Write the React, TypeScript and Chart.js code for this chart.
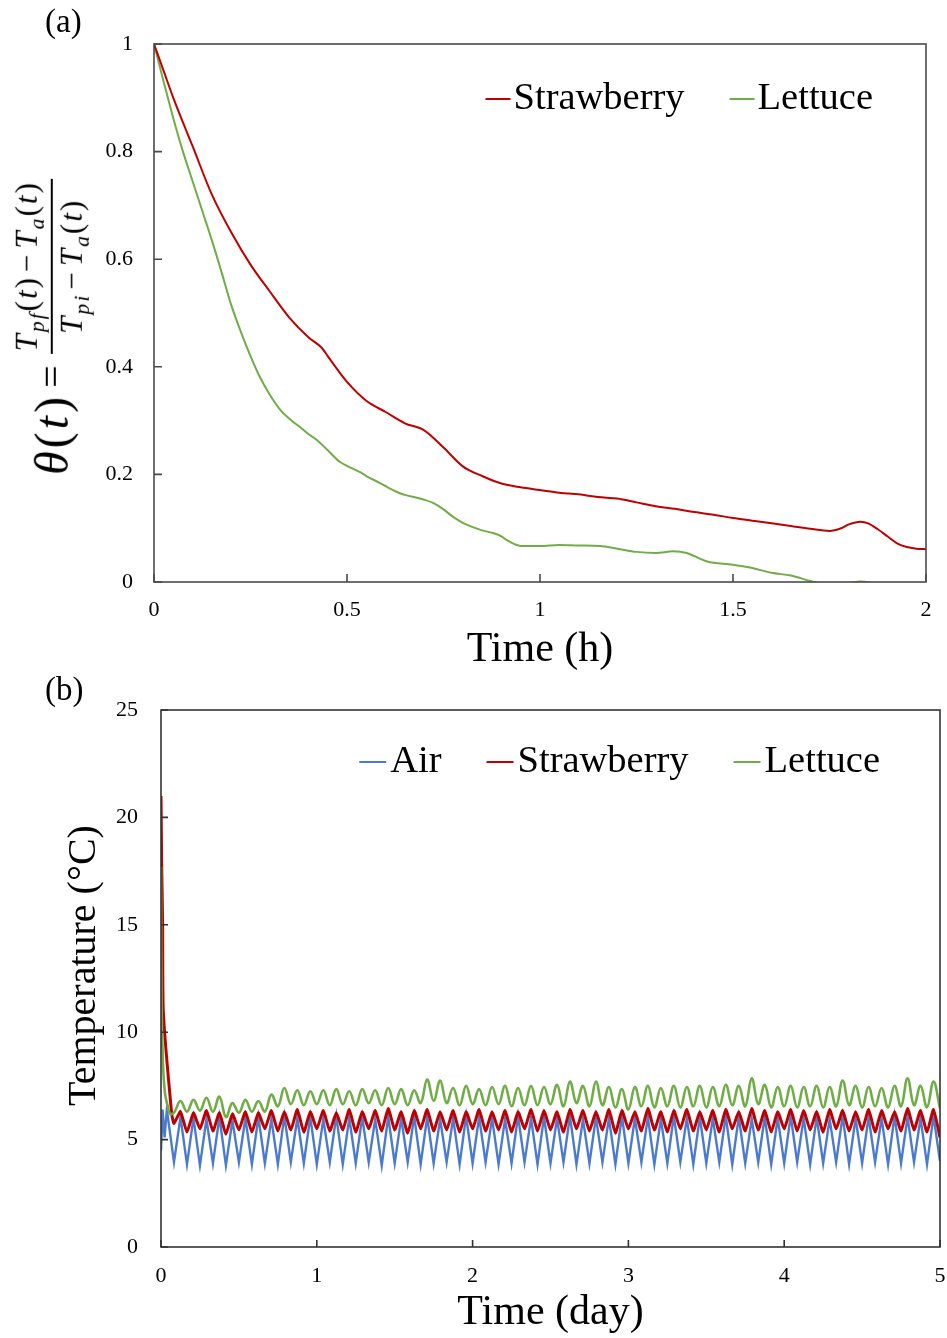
import React, { useEffect, useRef } from 'react';
import { Chart, registerables } from 'chart.js';

Chart.register(...registerables);

const FONT = "'Liberation Serif', 'Times New Roman', Times, serif";

// ---------- Panel (a): dimensionless temperature vs time (h) ----------
const strawberryHours = [0, 0.025, 0.05, 0.1, 0.15, 0.2, 0.25, 0.3, 0.35, 0.4, 0.435, 0.45, 0.5, 0.55, 0.6, 0.65, 0.7, 0.75, 0.8, 0.85, 0.9, 0.95, 1.0, 1.05, 1.1, 1.15, 1.2, 1.25, 1.3, 1.35, 1.4, 1.45, 1.5, 1.55, 1.6, 1.65, 1.7, 1.75, 1.78, 1.8, 1.83, 1.85, 1.875, 1.9, 1.925, 1.95, 1.975, 2.0];
const strawberryTheta = [1.0, 0.95, 0.9, 0.81, 0.72, 0.65, 0.59, 0.54, 0.492, 0.455, 0.435, 0.42, 0.372, 0.337, 0.316, 0.295, 0.282, 0.25, 0.215, 0.197, 0.183, 0.176, 0.171, 0.166, 0.163, 0.158, 0.155, 0.148, 0.141, 0.136, 0.13, 0.125, 0.119, 0.114, 0.109, 0.104, 0.099, 0.095, 0.1, 0.107, 0.112, 0.109, 0.098, 0.085, 0.072, 0.065, 0.062, 0.061];

const lettuceHours = [0, 0.025, 0.05, 0.075, 0.1, 0.125, 0.15, 0.175, 0.2, 0.225, 0.25, 0.275, 0.3, 0.325, 0.35, 0.378, 0.4, 0.422, 0.45, 0.482, 0.5, 0.534, 0.55, 0.585, 0.6, 0.637, 0.65, 0.7, 0.723, 0.75, 0.775, 0.8, 0.826, 0.85, 0.878, 0.9, 0.914, 0.95, 1.0, 1.05, 1.1, 1.155, 1.2, 1.25, 1.3, 1.345, 1.38, 1.4, 1.433, 1.5, 1.55, 1.6, 1.65, 1.7, 1.73, 1.76, 1.8, 1.83, 1.86, 1.9, 2.0];
const lettuceTheta = [1.0, 0.93, 0.862, 0.8, 0.745, 0.69, 0.635, 0.576, 0.515, 0.465, 0.42, 0.38, 0.348, 0.322, 0.304, 0.288, 0.275, 0.264, 0.245, 0.223, 0.216, 0.204, 0.197, 0.184, 0.178, 0.165, 0.162, 0.153, 0.147, 0.135, 0.121, 0.11, 0.102, 0.096, 0.091, 0.085, 0.078, 0.067, 0.067, 0.069, 0.068, 0.067, 0.062, 0.056, 0.054, 0.057, 0.054, 0.048, 0.038, 0.032, 0.026, 0.017, 0.012, 0.002, -0.003, -0.006, -0.002, 0.001, -0.002, -0.008, -0.012];

// ---------- Panel (b): temperature (°C) vs time, sampled in hours ----------
const airStartHours = [0, 0.25, 0.55, 0.9];
const airStartTemp = [4.5, 6.4, 5.1, 6.4];
const strawberryStartHours = [0, 0.1, 0.25, 0.35, 1.65];
const strawberryStartTemp = [21.0, 17.9, 15.1, 11.0, 6.2];
const lettuceStartHours = [0, 0.1, 0.3, 0.6, 1.0, 1.4];
const lettuceStartTemp = [17.7, 11.0, 8.6, 7.2, 6.6, 6.2];

const cycleHours = [
  2, 3, 4, 5, 6, 7, 8, 9, 10, 11, 12, 13,
  14, 15, 16, 17, 18, 19, 20, 21, 22, 23, 24, 25,
  26, 27, 28, 29, 30, 31, 32, 33, 34, 35, 36, 37,
  38, 39, 40, 41, 42, 43, 44, 45, 46, 47, 48, 49,
  50, 51, 52, 53, 54, 55, 56, 57, 58, 59, 60, 61,
  62, 63, 64, 65, 66, 67, 68, 69, 70, 71, 72, 73,
  74, 75, 76, 77, 78, 79, 80, 81, 82, 83, 84, 85,
  86, 87, 88, 89, 90, 91, 92, 93, 94, 95, 96, 97,
  98, 99, 100, 101, 102, 103, 104, 105, 106, 107, 108, 109,
  110, 111, 112, 113, 114, 115, 116, 117, 118, 119, 120,
];
const airTemp = [
  3.95, 6.05, 3.85, 6.0, 3.8, 5.95, 3.9, 6.05, 3.8, 5.9, 3.95, 6.0,
  3.85, 6.05, 3.9, 5.95, 3.85, 6.1, 3.95, 6.0, 3.9, 6.05, 3.85, 5.95,
  3.95, 6.1, 3.85, 6.0, 3.9, 6.05, 3.95, 5.95, 3.8, 6.05, 3.9, 6.0,
  3.95, 6.1, 3.85, 6.05, 3.9, 5.95, 3.95, 6.0, 3.85, 6.1, 3.9, 6.05,
  3.95, 6.0, 3.85, 5.95, 3.9, 6.1, 3.95, 6.0, 3.85, 6.05, 3.9, 6.0,
  3.95, 6.1, 3.85, 5.95, 3.9, 6.05, 3.95, 6.0, 3.85, 6.1, 3.9, 6.0,
  3.95, 6.05, 3.85, 5.95, 3.9, 6.1, 3.95, 6.0, 3.85, 6.05, 3.9, 6.0,
  3.95, 6.1, 3.85, 6.05, 3.9, 5.95, 3.95, 6.05, 3.85, 6.0, 3.9, 6.1,
  3.95, 6.0, 3.85, 6.05, 3.9, 5.95, 3.95, 6.1, 3.85, 6.0, 3.9, 6.05,
  3.95, 6.0, 3.85, 6.1, 3.9, 6.05, 3.95, 6.0, 3.85, 6.1, 4.0,
];
const strawberryTemp = [
  5.75, 6.3, 5.35, 6.25, 5.5, 6.35, 5.4, 6.25, 5.25, 6.2, 5.45, 6.3,
  5.35, 6.25, 5.5, 6.35, 5.4, 6.3, 5.45, 6.4, 5.35, 6.3, 5.5, 6.35,
  5.4, 6.25, 5.45, 6.4, 5.35, 6.3, 5.5, 6.35, 5.4, 6.45, 5.45, 6.3,
  5.3, 6.35, 5.5, 6.4, 5.4, 6.3, 5.45, 6.35, 5.35, 6.3, 5.5, 6.4,
  5.4, 6.3, 5.45, 6.35, 5.35, 6.3, 5.5, 6.4, 5.4, 6.35, 5.45, 6.3,
  5.35, 6.4, 5.5, 6.35, 5.4, 6.3, 5.45, 6.4, 5.3, 6.35, 5.5, 6.3,
  5.4, 6.45, 5.45, 6.3, 5.35, 6.35, 5.5, 6.4, 5.4, 6.3, 5.45, 6.35,
  5.35, 6.4, 5.5, 6.3, 5.4, 6.45, 5.45, 6.35, 5.35, 6.3, 5.5, 6.4,
  5.4, 6.35, 5.45, 6.3, 5.35, 6.4, 5.5, 6.35, 5.4, 6.3, 5.45, 6.4,
  5.35, 6.35, 5.5, 6.3, 5.4, 6.45, 5.45, 6.35, 5.35, 6.4, 5.1,
];
const lettuceTemp = [
  6.25, 6.8, 6.3, 6.85, 6.35, 6.95, 6.3, 7.0, 6.05, 6.7, 6.25, 6.85,
  6.3, 6.8, 6.3, 7.1, 6.55, 7.4, 6.65, 7.3, 6.6, 7.25, 6.65, 7.3,
  6.6, 7.35, 6.65, 7.25, 6.6, 7.35, 6.7, 7.3, 6.6, 7.4, 6.65, 7.35,
  6.6, 7.3, 6.7, 7.8, 6.8, 7.75, 6.7, 7.4, 6.6, 7.5, 6.65, 7.35,
  6.6, 7.45, 6.65, 7.5, 6.55, 7.4, 6.6, 7.5, 6.6, 7.45, 6.65, 7.55,
  6.55, 7.7, 6.7, 7.5, 6.55, 7.7, 6.6, 7.45, 6.5, 7.35, 6.4, 7.45,
  6.55, 7.5, 6.5, 7.4, 6.55, 7.5, 6.5, 7.45, 6.55, 7.5, 6.5, 7.45,
  6.55, 7.55, 6.6, 7.5, 6.55, 7.85, 6.65, 7.55, 6.5, 7.45, 6.55, 7.5,
  6.5, 7.45, 6.55, 7.5, 6.5, 7.45, 6.55, 7.75, 6.6, 7.5, 6.5, 7.45,
  6.55, 7.4, 6.5, 7.5, 6.55, 7.85, 6.6, 7.5, 6.5, 7.7, 6.45,
];
const hoursPerDay = 24;
const dayTickLabels = ['0', '1', '2', '3', '4', '5'];

const RED = '#C00000';
const GREEN = '#70AD47';
const BLUE = '#4A7BD0';

const toPoints = (xs: number[], ys: number[]) => xs.map((x, i) => ({ x, y: ys[i] }));
const plainNumber = (v: any) => String(+Number(v).toFixed(3));

// frame + inward tick marks
const frameTicks = {
  id: 'frameTicks',
  afterDatasetsDraw(chart: any, _args: any, opts: any) {
    const { ctx, chartArea: a, scales } = chart;
    ctx.save();
    ctx.strokeStyle = opts.color;
    ctx.lineWidth = opts.width;
    ctx.strokeRect(a.left, a.top, a.right - a.left, a.bottom - a.top);
    ctx.beginPath();
    scales.x.ticks.forEach((t: any) => {
      const p = scales.x.getPixelForValue(t.value);
      ctx.moveTo(p, a.bottom);
      ctx.lineTo(p, a.bottom - opts.len);
    });
    scales.y.ticks.forEach((t: any) => {
      const p = scales.y.getPixelForValue(t.value);
      ctx.moveTo(a.left, p);
      ctx.lineTo(a.left + opts.len, p);
    });
    ctx.stroke();
    ctx.restore();
  },
};

// legend drawn inside the plot area, right-aligned
const innerLegend = {
  id: 'innerLegend',
  afterDraw(chart: any, _args: any, opts: any) {
    const { ctx, chartArea: a } = chart;
    ctx.save();
    ctx.font = `${opts.size}px ${FONT}`;
    ctx.textBaseline = 'middle';
    const items = chart.data.datasets.map((d: any) => ({ label: d.label, color: d.borderColor }));
    const widths = items.map((it: any) => opts.lineLen + opts.lineGap + ctx.measureText(it.label).width);
    const total = widths.reduce((s: number, w: number) => s + w, 0) + opts.itemGap * (items.length - 1);
    let x = a.right - opts.right - total;
    const y = a.top + opts.top;
    items.forEach((it: any, i: number) => {
      ctx.strokeStyle = it.color;
      ctx.lineWidth = opts.lineWidth;
      ctx.beginPath();
      ctx.moveTo(x, y);
      ctx.lineTo(x + opts.lineLen, y);
      ctx.stroke();
      ctx.fillStyle = '#000';
      ctx.fillText(it.label, x + opts.lineLen + opts.lineGap, y);
      x += widths[i] + opts.itemGap;
    });
    ctx.restore();
  },
};

// rotated y-axis title placed relative to the plot area
const sideTitle = {
  id: 'sideTitle',
  afterDraw(chart: any, _args: any, opts: any) {
    if (!opts || !opts.text) return;
    const { ctx, chartArea: a } = chart;
    ctx.save();
    ctx.font = `${opts.size}px ${FONT}`;
    ctx.fillStyle = '#000';
    ctx.textAlign = 'center';
    ctx.textBaseline = 'middle';
    ctx.translate(opts.x, (a.top + a.bottom) / 2 + opts.dy);
    ctx.rotate(-Math.PI / 2);
    ctx.fillText(opts.text, 0, 0);
    ctx.restore();
  },
};

const noEdgePadding = (s: any) => {
  s.paddingLeft = 0;
  s.paddingRight = 0;
  s.paddingTop = 0;
  s.paddingBottom = 0;
};

function ChartA() {
  const ref = useRef<HTMLCanvasElement>(null);
  useEffect(() => {
    const chart = new Chart(ref.current as HTMLCanvasElement, {
      type: 'line',
      data: {
        datasets: [
          { label: 'Strawberry', data: toPoints(strawberryHours, strawberryTheta), borderColor: RED, backgroundColor: RED, borderWidth: 2, pointRadius: 0, cubicInterpolationMode: 'monotone' },
          { label: 'Lettuce', data: toPoints(lettuceHours, lettuceTheta), borderColor: GREEN, backgroundColor: GREEN, borderWidth: 2, pointRadius: 0, cubicInterpolationMode: 'monotone' },
        ],
      },
      options: {
        responsive: false,
        animation: false,
        devicePixelRatio: 1,
        layout: { padding: { left: 0, top: 44, right: 21, bottom: 0 } },
        plugins: {
          legend: { display: false },
          tooltip: { enabled: false },
          frameTicks: { color: '#4a4a4a', width: 1.6, len: 8 },
          innerLegend: { size: 38.5, lineLen: 25, lineGap: 3, itemGap: 45, right: 53, top: 55, lineWidth: 2 },
        } as any,
        scales: {
          x: {
            type: 'linear', min: 0, max: 2,
            ticks: { stepSize: 0.5, color: '#000', font: { family: FONT, size: 22 }, padding: 15, maxRotation: 0, autoSkip: false, callback: plainNumber },
            grid: { display: false, drawTicks: false },
            border: { display: false },
            title: { display: true, text: 'Time (h)', color: '#000', font: { family: FONT, size: 42 }, padding: { top: 0, bottom: 15 } },
            afterFit: (s: any) => { s.height = 108; noEdgePadding(s); },
          },
          y: {
            type: 'linear', min: 0, max: 1,
            ticks: { stepSize: 0.2, color: '#000', font: { family: FONT, size: 22 }, padding: 21, callback: plainNumber },
            grid: { display: false, drawTicks: false },
            border: { display: false },
            afterFit: (s: any) => { s.width = 154; noEdgePadding(s); },
          },
        },
      },
      plugins: [frameTicks, innerLegend],
    } as any);
    return () => chart.destroy();
  }, []);
  return <canvas ref={ref} width={947} height={690} style={{ position: 'absolute', left: 0, top: 0, width: 947, height: 690, display: 'block' }} />;
}

function ChartB() {
  const ref = useRef<HTMLCanvasElement>(null);
  useEffect(() => {
    const chart = new Chart(ref.current as HTMLCanvasElement, {
      type: 'line',
      data: {
        datasets: [
          { label: 'Air', data: toPoints(airStartHours.concat(cycleHours), airStartTemp.concat(airTemp)), borderColor: BLUE, backgroundColor: BLUE, borderWidth: 2.4, pointRadius: 0, tension: 0, order: 3 },
          { label: 'Strawberry', data: toPoints(strawberryStartHours.concat(cycleHours), strawberryStartTemp.concat(strawberryTemp)), borderColor: RED, backgroundColor: RED, borderWidth: 3, pointRadius: 0, tension: 0.15, order: 2 },
          { label: 'Lettuce', data: toPoints(lettuceStartHours.concat(cycleHours), lettuceStartTemp.concat(lettuceTemp)), borderColor: GREEN, backgroundColor: GREEN, borderWidth: 2.6, pointRadius: 0, tension: 0.4, order: 1 },
        ],
      },
      options: {
        responsive: false,
        animation: false,
        devicePixelRatio: 1,
        layout: { padding: { left: 0, top: 40, right: 7, bottom: 0 } },
        plugins: {
          legend: { display: false },
          tooltip: { enabled: false },
          frameTicks: { color: '#333', width: 1.6, len: 7 },
          innerLegend: { size: 38.5, lineLen: 27, lineGap: 4, itemGap: 45, right: 60, top: 52, lineWidth: 2 },
          sideTitle: { text: 'Temperature (°C)', size: 40, x: 84, dy: -13 },
        } as any,
        scales: {
          x: {
            type: 'linear', min: 0, max: 120,
            ticks: {
              stepSize: hoursPerDay, color: '#000', font: { family: FONT, size: 22 }, padding: 16, maxRotation: 0, autoSkip: false,
              callback: (v: any) => dayTickLabels[Math.round(Number(v) / hoursPerDay)],
            },
            grid: { display: false, drawTicks: false },
            border: { display: false },
            title: { display: true, text: 'Time (day)', color: '#000', font: { family: FONT, size: 42 }, padding: { top: 0, bottom: 0 } },
            afterFit: (s: any) => { s.height = 91; noEdgePadding(s); },
          },
          y: {
            type: 'linear', min: 0, max: 25,
            ticks: { stepSize: 5, color: '#000', font: { family: FONT, size: 22 }, padding: 23 },
            grid: { display: false, drawTicks: false },
            border: { display: false },
            afterFit: (s: any) => { s.width = 161; noEdgePadding(s); },
          },
        },
      },
      plugins: [frameTicks, innerLegend, sideTitle],
    } as any);
    return () => chart.destroy();
  }, []);
  return <canvas ref={ref} width={947} height={668} style={{ position: 'absolute', left: 0, top: 670, width: 947, height: 668, display: 'block' }} />;
}

const sub = { fontSize: '0.7em', verticalAlign: '-0.3em', lineHeight: 1 } as React.CSSProperties;

function ThetaLabel() {
  return (
    <div
      style={{
        position: 'absolute', left: 52, top: 327, transform: 'translate(-50%, -50%) rotate(-90deg)',
        whiteSpace: 'nowrap', display: 'flex', alignItems: 'center', fontFamily: FONT, color: '#000', lineHeight: 1,
      }}
    >
      <span style={{ fontSize: 48, letterSpacing: 3 }}><i>θ</i>(<i>t</i>)</span>
      <span style={{ fontSize: 40, margin: '0 12px 0 6px' }}>=</span>
      <span style={{ display: 'inline-flex', flexDirection: 'column', alignItems: 'center', fontSize: 31, letterSpacing: 2 }}>
        <span style={{ padding: '0 2px 3px' }}>
          <i>T</i><span style={sub}><i>pf</i></span>(<i>t</i>)<span style={{ margin: '0 4px' }}>−</span><i>T</i><span style={sub}><i>a</i></span>(<i>t</i>)
        </span>
        <span style={{ borderTop: '2px solid #000', padding: '3px 2px 0', alignSelf: 'stretch', textAlign: 'center' }}>
          <i>T</i><span style={sub}><i>pi</i></span><span style={{ margin: '0 4px' }}>−</span><i>T</i><span style={sub}><i>a</i></span>(<i>t</i>)
        </span>
      </span>
    </div>
  );
}

export default function App() {
  return (
    <div style={{ position: 'absolute', left: 0, top: 0, width: 947, height: 1338, background: '#fff', overflow: 'hidden' }}>
      <ChartA />
      <ChartB />
      <ThetaLabel />
      <div style={{ position: 'absolute', left: 45, top: 2, fontFamily: FONT, fontSize: 33, color: '#000', lineHeight: 1.2 }}>(a)</div>
      <div style={{ position: 'absolute', left: 45, top: 670, fontFamily: FONT, fontSize: 33, color: '#000', lineHeight: 1.2 }}>(b)</div>
    </div>
  );
}
